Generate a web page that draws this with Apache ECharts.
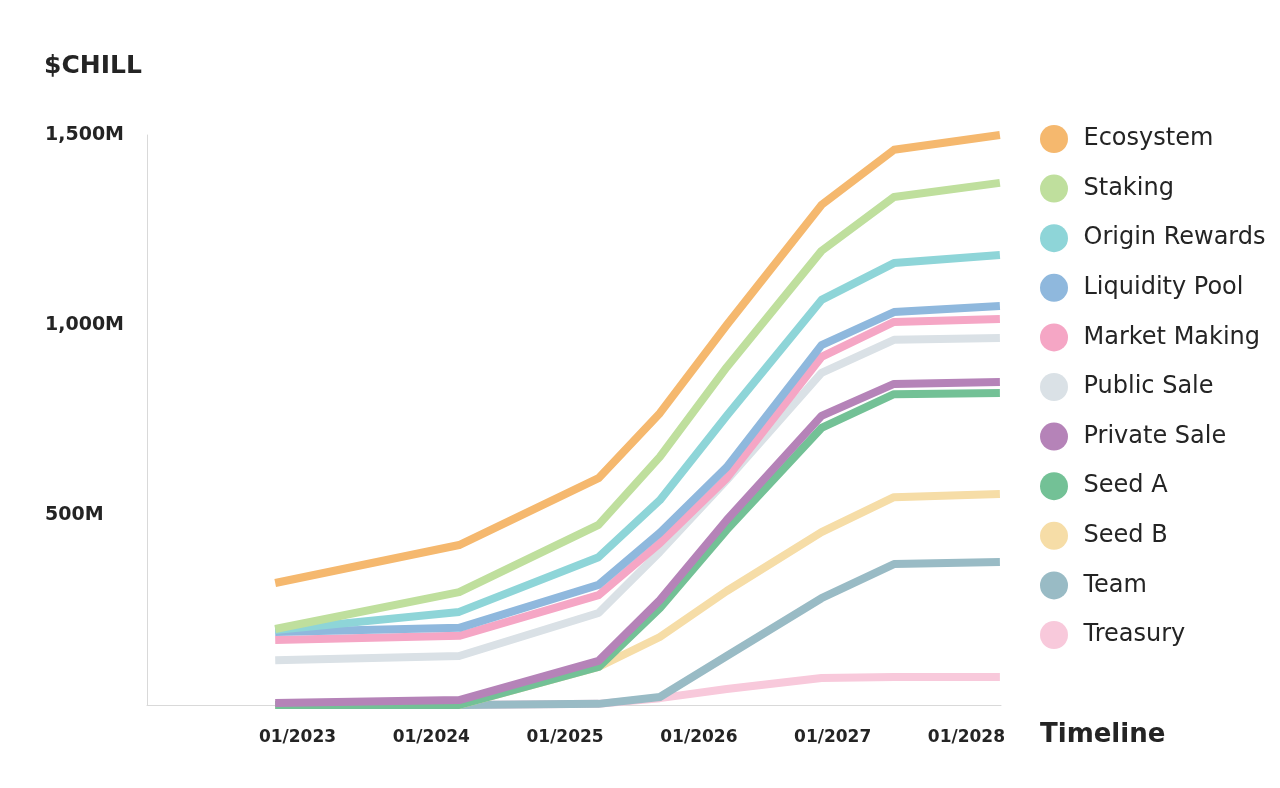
<!DOCTYPE html>
<html>
<head>
<meta charset="utf-8">
<script src="https://cdn.jsdelivr.net/npm/echarts@6/dist/echarts.min.js"></script>
<style>
  html, body { margin: 0; padding: 0; background: #fff; }
  #chart { width: 1280px; height: 788px; }
</style>
</head>
<body>
<div id="chart"></div>
<script>
// x values are months counted from 01/2022
var months = [10, 26.5, 39, 44.5, 50.5, 59, 65.5, 75]
var yearTicks = [12, 24, 36, 48, 60, 72]

var ecosystem = [321, 421, 597, 768, 1000, 1316, 1461, 1500]
var staking = [200, 297, 474, 653, 889, 1195, 1337, 1374]
var originRewards = [197, 245, 389, 539, 761, 1066, 1163, 1184]
var liquidityPool = [192, 203, 316, 453, 626, 947, 1034, 1050]
var marketMaking = [171, 182, 289, 426, 597, 916, 1008, 1016]
var publicSale = [118, 129, 242, 403, 592, 874, 961, 966]
var privateSale = [5, 13, 116, 276, 487, 761, 845, 850]
var seedA = [0, 0, 100, 255, 461, 729, 818, 821]
var seedB = [0, 0, 100, 179, 300, 455, 547, 555]
var team = [0, 0, 3, 21, 129, 281, 371, 376]
var treasury = [0, 0, 3, 18, 42, 71, 74, 74]

var names = ['Ecosystem', 'Staking', 'Origin Rewards', 'Liquidity Pool', 'Market Making',
  'Public Sale', 'Private Sale', 'Seed A', 'Seed B', 'Team', 'Treasury']
var values = [ecosystem, staking, originRewards, liquidityPool, marketMaking,
  publicSale, privateSale, seedA, seedB, team, treasury]
var colors = ['#f5b86e', '#bfdf9d', '#8ed5d8', '#8fb8dd', '#f5a6c5',
  '#dae1e6', '#b583b8', '#73c196', '#f6dda7', '#99bbc5', '#f8c9db']

var textColor = '#242424'
var font = 'DejaVu Sans'

// later series are drawn first so the upper ones sit on top
var series = []
for (var i = names.length - 1; i >= 0; i--) {
  series.push({
    name: names[i],
    type: 'line',
    showSymbol: false,
    color: colors[i],
    lineStyle: { width: 8, color: colors[i], join: 'round', cap: 'butt' },
    data: months.map(function (m, k) { return [m, values[i][k]] })
  })
}

var chart = echarts.init(document.getElementById('chart'))
chart.setOption({
  animation: false,
  textStyle: { fontFamily: font },
  title: [
    {
      text: '$CHILL',
      left: 44,
      top: 54,
      padding: 0,
      textStyle: { fontFamily: font, fontSize: 25, fontWeight: 'bold', color: textColor }
    },
    {
      text: 'Timeline',
      left: 1040,
      top: 722,
      padding: 0,
      textStyle: { fontFamily: font, fontSize: 26, fontWeight: 'bold', color: textColor }
    }
  ],
  legend: {
    data: names,
    orient: 'vertical',
    left: 1040,
    top: 125,
    padding: 0,
    icon: 'circle',
    itemWidth: 49,
    itemHeight: 28,
    itemGap: 21.6,
    selectedMode: false,
    textStyle: { fontFamily: font, fontSize: 24, color: textColor }
  },
  grid: {
    left: 147,
    right: 279,
    top: 135,
    bottom: 83,
    containLabel: false
  },
  xAxis: {
    type: 'value',
    min: -1.5,
    max: 75.1,
    axisLine: { show: true, onZero: false, lineStyle: { color: '#d9d9d9', width: 1 } },
    axisTick: { show: false },
    splitLine: { show: false },
    axisLabel: {
      customValues: yearTicks,
      margin: 24,
      fontFamily: font,
      fontSize: 17,
      fontWeight: 'bold',
      color: textColor,
      formatter: function (v) { return '01/' + (2022 + Math.round(v / 12)) }
    }
  },
  yAxis: {
    type: 'value',
    min: 0,
    max: 1500,
    interval: 500,
    axisLine: { show: true, onZero: false, lineStyle: { color: '#d9d9d9', width: 1 } },
    axisTick: { show: false },
    splitLine: { show: false },
    axisLabel: {
      showMinLabel: false,
      align: 'left',
      margin: 102,
      fontFamily: font,
      fontSize: 19,
      fontWeight: 'bold',
      color: textColor,
      formatter: function (v) { return v === 0 ? '' : v.toLocaleString('en-US') + 'M' }
    }
  },
  series: series
})
</script>
</body>
</html>
